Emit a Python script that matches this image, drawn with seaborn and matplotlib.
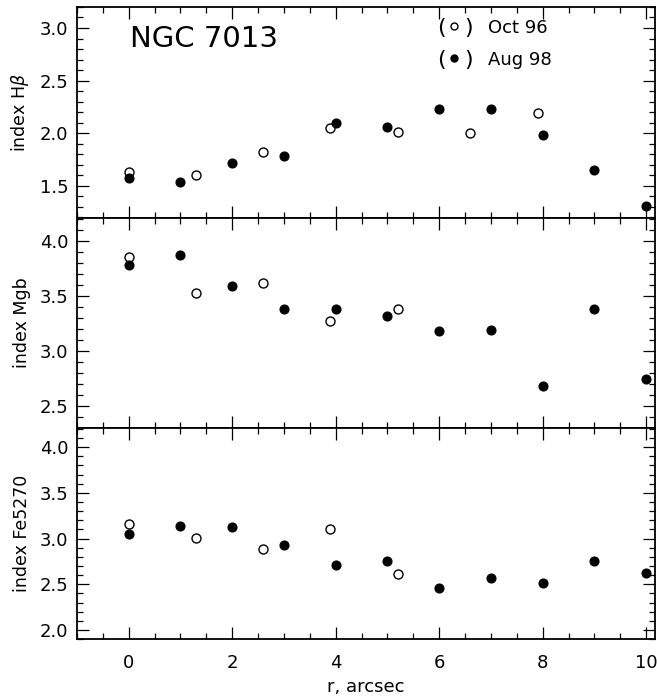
import numpy as np
import pandas as pd
import matplotlib
matplotlib.use("Agg")
import matplotlib.pyplot as plt
import seaborn as sns
from matplotlib.ticker import MultipleLocator

# ---- data ----
r_oct_hb = [0, 1.3, 2.6, 3.9, 5.2, 6.6, 7.9]
hb_oct = [1.63, 1.60, 1.82, 2.05, 2.01, 2.00, 2.19]
r_oct = [0, 1.3, 2.6, 3.9, 5.2]
mgb_oct = [3.85, 3.53, 3.62, 3.27, 3.38]
fe_oct = [3.16, 3.01, 2.89, 3.10, 2.61]

r_aug = [0, 1, 2, 3, 4, 5, 6, 7, 8, 9, 10]
hb_aug = [1.57, 1.53, 1.72, 1.78, 2.10, 2.06, 2.23, 2.23, 1.98, 1.65, 1.31]
mgb_aug = [3.78, 3.87, 3.59, 3.38, 3.38, 3.32, 3.18, 3.19, 2.68, 3.38, 2.75]
fe_aug = [3.05, 3.14, 3.13, 2.93, 2.71, 2.75, 2.46, 2.57, 2.51, 2.75, 2.62]

ylabels = ["index H$\\beta$", "index Mgb", "index Fe5270"]
ylims = [(1.195, 3.2), (2.3, 4.21), (1.9, 4.205)]
x_label = "r, arcsec"
title = "NGC 7013"
legend_labels = ["Oct 96", "Aug 98"]

sns.set_style("ticks")
plt.rcParams['font.family'] = ['DejaVu Sans']
plt.rcParams['text.color'] = 'black'
plt.rcParams['axes.labelcolor'] = 'black'
plt.rcParams['xtick.color'] = 'black'
plt.rcParams['ytick.color'] = 'black'

fig, axes = plt.subplots(3, 1, figsize=(6.57, 6.97), dpi=100, sharex=True,
                         gridspec_kw=dict(hspace=0))
fig.subplots_adjust(left=0.117, right=0.997, top=0.99, bottom=0.083)

panels = [
    (r_oct_hb, hb_oct, r_aug, hb_aug),
    (r_oct, mgb_oct, r_aug, mgb_aug),
    (r_oct, fe_oct, r_aug, fe_aug),
]

for ax, (ro, vo, ra, va), yl, lim in zip(axes, panels, ylabels, ylims):
    d_oct = pd.DataFrame({"r": ro, "v": vo})
    d_aug = pd.DataFrame({"r": ra, "v": va})
    sns.scatterplot(data=d_oct, x="r", y="v", ax=ax, marker="o", s=42,
                    facecolor="white", edgecolor="black", linewidth=1.0,
                    zorder=3, clip_on=True)
    sns.scatterplot(data=d_aug, x="r", y="v", ax=ax, marker="o", s=42,
                    color="black", edgecolor="black", linewidth=0.8,
                    zorder=4, clip_on=True)
    ax.set_ylim(*lim)
    ax.set_xlim(-1.0, 10.17)
    ax.set_ylabel(yl, fontsize=12.5, color="black")
    ax.yaxis.set_label_coords(-0.079, 0.5)
    ax.set_xlabel("")
    ax.yaxis.set_major_locator(MultipleLocator(0.5))
    ax.yaxis.set_minor_locator(MultipleLocator(0.1))
    ax.xaxis.set_major_locator(MultipleLocator(2))
    ax.xaxis.set_minor_locator(MultipleLocator(0.5))
    ax.yaxis.set_major_formatter(matplotlib.ticker.FormatStrFormatter("%.1f"))
    ax.tick_params(which="both", direction="in", top=True, right=True,
                   width=0.9, color="black", labelcolor="black")
    ax.tick_params(which="major", length=8.5, labelsize=13, pad=6)
    ax.tick_params(which="minor", length=4)
    ax.tick_params(axis="x", which="major", pad=11)
    for s in ax.spines.values():
        s.set_linewidth(1.3)
        s.set_color("black")
    ax.grid(False)

axes[-1].set_xlabel(x_label, fontsize=13, color="black")
axes[-1].xaxis.set_major_formatter(matplotlib.ticker.FormatStrFormatter("%d"))

ax0 = axes[0]
ax0.text(0.092, 0.848, title, transform=ax0.transAxes, fontsize=21,
         ha="left", va="center", color="black")

rows_y = [0.90, 0.749]
for yy, lab, filled in zip(rows_y, legend_labels, [False, True]):
    ax0.text(0.63, yy, "(", transform=ax0.transAxes, fontsize=16,
             ha="center", va="center", color="black")
    ax0.text(0.677, yy, ")", transform=ax0.transAxes, fontsize=16,
             ha="center", va="center", color="black")
    ax0.plot([0.653], [yy + 0.01], transform=ax0.transAxes, marker="o",
             markersize=5, markerfacecolor="black" if filled else "white",
             markeredgecolor="black", markeredgewidth=1.0, linestyle="none")
    ax0.text(0.711, yy, lab, transform=ax0.transAxes, fontsize=13,
             ha="left", va="center", color="black")

fig.savefig("out.png", dpi=100)
